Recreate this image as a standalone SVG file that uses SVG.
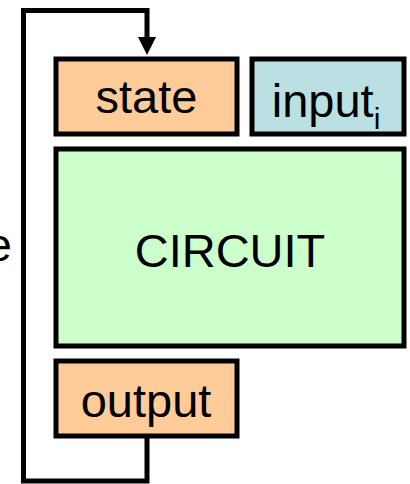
<svg xmlns="http://www.w3.org/2000/svg" width="410" height="484" viewBox="0 0 410 484">
  <style>
    .box { stroke: #000; stroke-width: 5; }
    .state { fill: #FFCC99; }
    .input { fill: #BBE0E3; }
    .circuit { fill: #CCFFCC; }
    .lbl { font-family: "Liberation Sans", Arial, sans-serif; font-size: 47px; fill: #000; text-anchor: middle; }
    .wire { fill: none; stroke: #000; stroke-width: 5; stroke-linejoin: miter; }
  </style>
  <defs>
    <marker id="arrow" markerUnits="userSpaceOnUse" viewBox="0 0 18 18" refX="0" refY="9" markerWidth="18" markerHeight="18" orient="auto">
      <path d="M0,0 L18,9 L0,18 z" fill="#000"/>
    </marker>
  </defs>
  <rect width="410" height="484" fill="#fff"/>

  <!-- feedback loop: output back into state -->
  <g id="connectors">
    <path class="wire" d="M147,438 V481 H23.5 V10.5 H147 V37" marker-end="url(#arrow)"/>
  </g>

  <g id="side-label">
    <text class="lbl" x="12" y="261" style="text-anchor:end">e</text>
  </g>

  <g id="state">
    <rect class="box state" x="56" y="59" width="181" height="75"/>
    <text class="lbl" x="146.5" y="113">state</text>
  </g>

  <g id="input">
    <rect class="box input" x="252" y="59" width="152" height="75"/>
    <text class="lbl" x="326" y="116.5">input<tspan font-size="30" dy="12">i</tspan></text>
  </g>

  <g id="circuit">
    <rect class="box circuit" x="56" y="149" width="348" height="197"/>
    <text class="lbl" x="230" y="266.5">CIRCUIT</text>
  </g>

  <g id="output">
    <rect class="box state" x="56" y="361" width="181" height="75"/>
    <text class="lbl" x="146" y="416.5">output</text>
  </g>
</svg>
